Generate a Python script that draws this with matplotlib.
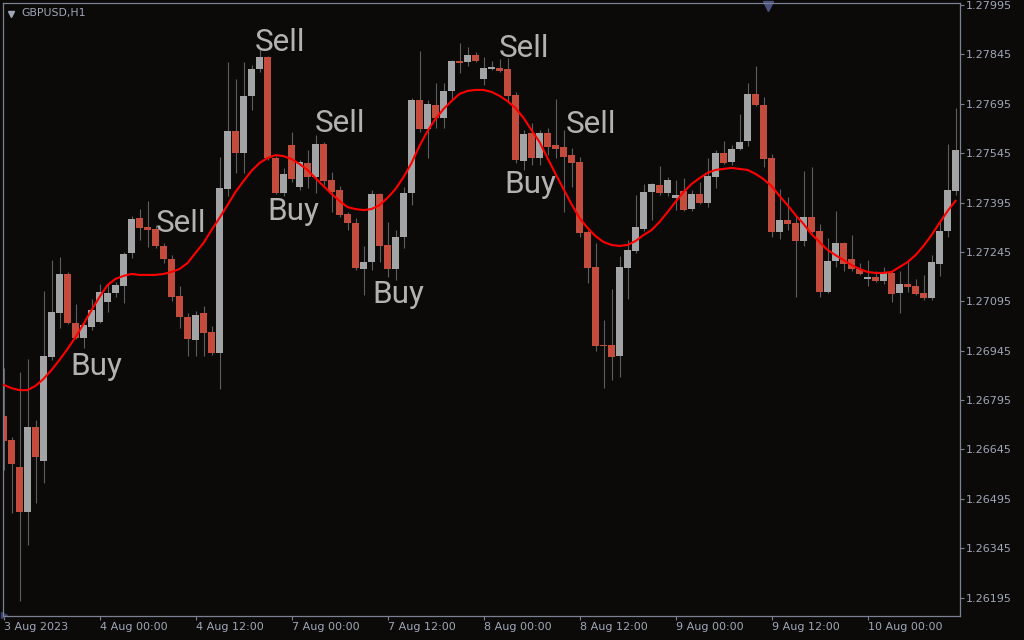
import numpy as np
import matplotlib
matplotlib.use("Agg")
import matplotlib.pyplot as plt

# GBPUSD H1 bars, 3 Aug 12:00 .. 10 Aug 11:00 (120 bars)
opens = [1.26746, 1.26673, 1.26591, 1.26455, 1.26713, 1.26610, 1.26926, 1.27059, 1.27178, 1.27029,
         1.26983, 1.27017, 1.27032, 1.27093, 1.27120, 1.27141, 1.27242, 1.27348, 1.27321, 1.27314,
         1.27263, 1.27223, 1.27111, 1.27047, 1.26977, 1.27059, 1.27002, 1.26938, 1.27436, 1.27612,
         1.27545, 1.27719, 1.27801, 1.27837, 1.27530, 1.27424, 1.27570, 1.27442, 1.27515, 1.27472,
         1.27573, 1.27463, 1.27433, 1.27360, 1.27333, 1.27193, 1.27214, 1.27421, 1.27266, 1.27193,
         1.27290, 1.27424, 1.27706, 1.27618, 1.27691, 1.27652, 1.27734, 1.27825, 1.27822, 1.27843,
         1.27770, 1.27802, 1.27804, 1.27801, 1.27722, 1.27521, 1.27606, 1.27530, 1.27606, 1.27570,
         1.27564, 1.27539, 1.27518, 1.27305, 1.27199, 1.26962, 1.26962, 1.26929, 1.27196, 1.27248,
         1.27314, 1.27427, 1.27448, 1.27424, 1.27409, 1.27430, 1.27375, 1.27421, 1.27393, 1.27472,
         1.27545, 1.27518, 1.27558, 1.27582, 1.27725, 1.27691, 1.27530, 1.27305, 1.27342, 1.27333,
         1.27278, 1.27351, 1.27308, 1.27123, 1.27217, 1.27272, 1.27223, 1.27193, 1.27164, 1.27169,
         1.27157, 1.27181, 1.27120, 1.27147, 1.27141, 1.27120, 1.27105, 1.27208, 1.27308, 1.27430]
highs = [1.26892, 1.26683, 1.26880, 1.26920, 1.26734, 1.27126, 1.27220, 1.27229, 1.27184, 1.27087,
         1.27032, 1.27102, 1.27147, 1.27150, 1.27153, 1.27245, 1.27354, 1.27375, 1.27400, 1.27327,
         1.27272, 1.27235, 1.27141, 1.27059, 1.27065, 1.27081, 1.27020, 1.27533, 1.27822, 1.27770,
         1.27822, 1.27813, 1.27867, 1.27840, 1.27536, 1.27500, 1.27609, 1.27524, 1.27554, 1.27600,
         1.27579, 1.27488, 1.27445, 1.27366, 1.27348, 1.27263, 1.27433, 1.27424, 1.27336, 1.27311,
         1.27442, 1.27712, 1.27855, 1.27706, 1.27758, 1.27758, 1.27828, 1.27880, 1.27867, 1.27852,
         1.27837, 1.27825, 1.27831, 1.27834, 1.27731, 1.27615, 1.27637, 1.27615, 1.27621, 1.27709,
         1.27615, 1.27561, 1.27533, 1.27311, 1.27272, 1.27038, 1.27132, 1.27232, 1.27281, 1.27418,
         1.27451, 1.27454, 1.27506, 1.27472, 1.27463, 1.27469, 1.27433, 1.27457, 1.27530, 1.27554,
         1.27582, 1.27570, 1.27664, 1.27758, 1.27810, 1.27716, 1.27542, 1.27436, 1.27412, 1.27357,
         1.27491, 1.27503, 1.27330, 1.27287, 1.27369, 1.27275, 1.27296, 1.27211, 1.27220, 1.27187,
         1.27199, 1.27190, 1.27187, 1.27220, 1.27163, 1.27175, 1.27235, 1.27336, 1.27573, 1.27682]
lows = [1.26582, 1.26452, 1.26184, 1.26355, 1.26482, 1.26543, 1.26917, 1.27014, 1.27026, 1.26980,
        1.26953, 1.27008, 1.27029, 1.27062, 1.27108, 1.27090, 1.27226, 1.27281, 1.27260, 1.27257,
        1.27211, 1.27096, 1.27014, 1.26929, 1.26929, 1.26929, 1.26932, 1.26828, 1.27415, 1.27485,
        1.27485, 1.27676, 1.27791, 1.27524, 1.27421, 1.27415, 1.27457, 1.27433, 1.27439, 1.27424,
        1.27448, 1.27366, 1.27351, 1.27311, 1.27190, 1.27114, 1.27190, 1.27214, 1.27169, 1.27160,
        1.27257, 1.27387, 1.27609, 1.27530, 1.27621, 1.27621, 1.27706, 1.27788, 1.27810, 1.27822,
        1.27752, 1.27797, 1.27791, 1.27700, 1.27515, 1.27494, 1.27509, 1.27509, 1.27539, 1.27530,
        1.27366, 1.27442, 1.27290, 1.27150, 1.26944, 1.26831, 1.26856, 1.26865, 1.27102, 1.27242,
        1.27308, 1.27342, 1.27418, 1.27415, 1.27372, 1.27369, 1.27369, 1.27390, 1.27381, 1.27439,
        1.27512, 1.27509, 1.27554, 1.27567, 1.27688, 1.27503, 1.27290, 1.27284, 1.27311, 1.27108,
        1.27263, 1.27302, 1.27108, 1.27120, 1.27199, 1.27187, 1.27187, 1.27175, 1.27141, 1.27153,
        1.27147, 1.27093, 1.27059, 1.27123, 1.27114, 1.27099, 1.27099, 1.27172, 1.27290, 1.27418]
closes = [1.26670, 1.26601, 1.26455, 1.26713, 1.26622, 1.26929, 1.27062, 1.27178, 1.27029, 1.26983,
          1.27023, 1.27068, 1.27123, 1.27120, 1.27144, 1.27238, 1.27345, 1.27318, 1.27311, 1.27263,
          1.27223, 1.27108, 1.27047, 1.26980, 1.27053, 1.26998, 1.26938, 1.27439, 1.27612, 1.27545,
          1.27719, 1.27801, 1.27837, 1.27530, 1.27424, 1.27482, 1.27466, 1.27518, 1.27472, 1.27573,
          1.27460, 1.27427, 1.27357, 1.27333, 1.27196, 1.27214, 1.27421, 1.27263, 1.27193, 1.27290,
          1.27424, 1.27706, 1.27618, 1.27694, 1.27652, 1.27734, 1.27825, 1.27819, 1.27843, 1.27825,
          1.27804, 1.27804, 1.27794, 1.27719, 1.27524, 1.27603, 1.27530, 1.27606, 1.27564, 1.27558,
          1.27533, 1.27515, 1.27302, 1.27196, 1.26959, 1.26959, 1.26926, 1.27199, 1.27251, 1.27321,
          1.27427, 1.27451, 1.27424, 1.27463, 1.27418, 1.27372, 1.27421, 1.27393, 1.27475, 1.27545,
          1.27515, 1.27558, 1.27579, 1.27725, 1.27691, 1.27527, 1.27305, 1.27342, 1.27330, 1.27278,
          1.27351, 1.27305, 1.27123, 1.27217, 1.27272, 1.27208, 1.27193, 1.27178, 1.27166, 1.27157,
          1.27181, 1.27117, 1.27147, 1.27138, 1.27117, 1.27105, 1.27214, 1.27308, 1.27433, 1.27554]

# smoothed red line (indicator)
ma_line = [1.26841, 1.26831, 1.26825, 1.26825, 1.26838, 1.26859, 1.26886, 1.26917, 1.26950, 1.26986,
           1.27026, 1.27068, 1.27108, 1.27144, 1.27163, 1.27172, 1.27178, 1.27175, 1.27175, 1.27175,
           1.27178, 1.27184, 1.27193, 1.27211, 1.27242, 1.27272, 1.27311, 1.27348, 1.27387, 1.27427,
           1.27460, 1.27491, 1.27515, 1.27530, 1.27539, 1.27536, 1.27527, 1.27512, 1.27494, 1.27469,
           1.27445, 1.27421, 1.27400, 1.27381, 1.27375, 1.27372, 1.27375, 1.27387, 1.27409, 1.27436,
           1.27472, 1.27515, 1.27567, 1.27612, 1.27649, 1.27679, 1.27703, 1.27725, 1.27734, 1.27737,
           1.27737, 1.27731, 1.27719, 1.27703, 1.27682, 1.27652, 1.27615, 1.27579, 1.27530, 1.27482,
           1.27436, 1.27390, 1.27348, 1.27318, 1.27293, 1.27275, 1.27266, 1.27263, 1.27266, 1.27278,
           1.27296, 1.27311, 1.27336, 1.27366, 1.27397, 1.27427, 1.27451, 1.27469, 1.27485, 1.27494,
           1.27497, 1.27500, 1.27497, 1.27494, 1.27482, 1.27466, 1.27445, 1.27415, 1.27387, 1.27357,
           1.27330, 1.27299, 1.27275, 1.27251, 1.27235, 1.27220, 1.27205, 1.27193, 1.27184, 1.27181,
           1.27181, 1.27184, 1.27199, 1.27214, 1.27235, 1.27263, 1.27296, 1.27333, 1.27369, 1.27400]

signal_text = ["Buy", "Sell", "Buy", "Sell", "Buy", "Sell", "Buy", "Sell", "Sell"]
signal_bar = [11.6, 22.2, 36.2, 34.5, 49.4, 42.1, 65.9, 65.0, 73.4]
signal_price = [1.26871, 1.27305, 1.27342, 1.27855, 1.27090, 1.27609, 1.27424, 1.27837, 1.27606]

price_ticks = [1.27995, 1.27845, 1.27695, 1.27545, 1.27395, 1.27245,
               1.27095, 1.26945, 1.26795, 1.26645, 1.26495, 1.26345, 1.26195]
time_tick_bars = [0, 12, 24, 36, 48, 60, 72, 84, 96, 108]
time_tick_labels = ["3 Aug 2023", "4 Aug 00:00", "4 Aug 12:00", "7 Aug 00:00", "7 Aug 12:00",
                    "8 Aug 00:00", "8 Aug 12:00", "9 Aug 00:00", "9 Aug 12:00", "10 Aug 00:00"]

bg = "#0c0a08"
frame = "#7b8194"
txt = "#9ea6b8"
up_col = "#a2a4a6"
dn_col = "#c44c3d"

o = np.array(opens)
h = np.array(highs)
l = np.array(lows)
c = np.array(closes)
x = np.arange(len(o))
up = c >= o

fig = plt.figure(figsize=(10.24, 6.4), dpi=100, facecolor=bg)
ax = fig.add_axes([2.5 / 1024, 24 / 640, 957.5 / 1024, 613.5 / 640])
ax.set_facecolor(bg)

ax.vlines(x, l, h, color="#5c5e62", linewidth=0.8, zorder=1)
body_lo = np.minimum(o, c)
body_h = np.maximum(np.abs(c - o), 0.000032)
ax.bar(x, body_h, bottom=body_lo, width=0.875,
       color=np.where(up, up_col, dn_col), linewidth=0, zorder=2)

ax.plot(x, ma_line, color="#ff0000", linewidth=1.5, zorder=3)

for t, b, p in zip(signal_text, signal_bar, signal_price):
    ax.text(b, p, t, color="#b2b2b2", fontsize=22.7, family="Roboto",
            ha="center", va="baseline", zorder=4)

ax.set_xlim(-0.125, 119.56)
ax.set_ylim(1.261388, 1.280026)

ax.yaxis.tick_right()
ax.set_yticks(price_ticks)
ax.set_yticklabels([f"{v:.5f}" for v in price_ticks])
ax.set_xticks(time_tick_bars)
ax.set_xticklabels(time_tick_labels)
for lab in ax.get_xticklabels():
    lab.set_ha("left")
ax.tick_params(axis="both", colors=frame, labelcolor=txt, labelsize=8, length=3, width=0.8)
ax.tick_params(axis="x", pad=1)
ax.tick_params(axis="y", pad=1.5)
for s in ax.spines.values():
    s.set_color(frame)
    s.set_linewidth(0.9)

# header and small markers
ax.plot([0.0085], [0.9805], marker="v", markersize=5, color=txt,
        transform=ax.transAxes, clip_on=False)
ax.text(0.0202, 0.9835, "GBPUSD,H1", color=txt, fontsize=7.8,
        transform=ax.transAxes, ha="left", va="center")
ax.plot([0.7995], [0.995], marker="v", markersize=7, color="#4b5280",
        transform=ax.transAxes, clip_on=False)
ax.plot([0.002], [0.002], marker=">", markersize=5, color="#3c4270",
        transform=ax.transAxes, clip_on=False)

fig.savefig("out.png", dpi=100, facecolor=bg)
